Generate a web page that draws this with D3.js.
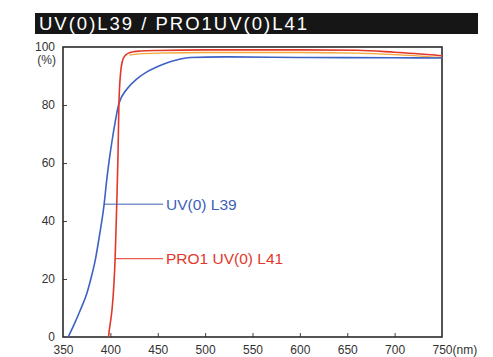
<!DOCTYPE html>
<html><head><meta charset="utf-8">
<script src="https://cdn.jsdelivr.net/npm/d3@7"></script>
<style>body{margin:0;background:#fff}svg{display:block}</style>
</head><body>
<script>
const titleText = "UV(0)L39 / PRO1UV(0)L41";
const xTicks = [350,400,450,500,550,600,650,700,750];
const yTicks = [0,20,40,60,80,100];
const seriesNames = ["UV(0) L39","PRO1 UV(0) L41"];
const blueNm  = [355.5,362,368.3,375.3,379.9,384.1,388.5,393.3,396.1,399,401.7,405,409,417.5,428,439,450,460,472,484,520,600,700,750];
const blueVal = [0,4.5,9.3,15.2,20.7,26.6,35,45.5,54,61.5,67.5,74,80.5,85.5,89,91.5,93.3,94.6,95.7,96.4,96.6,96.4,96.3,96.2];
const redNm   = [398,398.5,400,401.7,403.8,405,406.7,408,409,410.5,413,416,420,425,432,450,500,600,660,700,750];
const redVal  = [0,1.4,5,9.3,18.6,27,45.5,62,80,90,95.5,97.2,98,98.4,98.6,98.8,99,99,98.9,98.2,97];
const orangeNm  = [420,430,450,500,600,660,700,750];
const orangeVal = [97.2,97.6,97.9,98.1,98.1,97.9,97.4,96.4];
const leaderNm = [393.3, 405];
const leaderVal = [45.8, 27];

const W=493,H=357;
const svg=d3.select("body").append("svg").attr("width",W).attr("height",H);
const x=d3.scaleLinear().domain([350,750]).range([63,442]);
const y=d3.scaleLinear().domain([0,100]).range([337,47]);
const font="'Liberation Sans', Arial, Helvetica, sans-serif";

// title bar
svg.append("rect").attr("x",35).attr("y",13).attr("width",443).attr("height",21).attr("fill","#161616");
svg.append("text").attr("x",39).attr("y",30).attr("fill","#fff").attr("font-family",font)
  .attr("font-size",18.5).attr("textLength",268).text(titleText);

// axes
const xAxis=d3.axisBottom(x).tickValues(xTicks).tickSize(-4).tickPadding(8).tickFormat(d=>d===750?"750(nm)":d);
const gx=svg.append("g").attr("transform","translate(0,337)").call(xAxis);
gx.select(".domain").remove();
gx.selectAll("line").attr("stroke","#444");
gx.selectAll("text").attr("font-family",font).attr("font-size",12).attr("fill","#333");
gx.selectAll(".tick").filter(d=>d===750).select("text").attr("text-anchor","start").attr("dx",-10);
gx.selectAll(".tick").filter(d=>d===350||d===750).select("line").remove();

const yAxis=d3.axisLeft(y).tickValues(yTicks).tickSize(-4).tickPadding(8);
const gy=svg.append("g").attr("transform","translate(63,0)").call(yAxis);
gy.select(".domain").remove();
gy.selectAll("line").attr("stroke","#444");
gy.selectAll("text").attr("font-family",font).attr("font-size",12).attr("fill","#333");
gy.selectAll(".tick").filter(d=>d===0||d===100).select("line").remove();
svg.append("text").attr("x",56).attr("y",64).attr("text-anchor","end").attr("font-family",font)
  .attr("font-size",12).attr("fill","#333").text("(%)");

// frame
svg.append("rect").attr("x",x(350)).attr("y",y(100)).attr("width",x(750)-x(350)).attr("height",y(0)-y(100))
  .attr("fill","none").attr("stroke","#2a2a2a").attr("stroke-width",1.6);

const line=d3.line().x(d=>x(d[0])).y(d=>y(d[1])).curve(d3.curveMonotoneX);
svg.append("path").datum(d3.zip(orangeNm,orangeVal)).attr("d",line).attr("fill","none").attr("stroke","#f2a93a").attr("stroke-width",1.3);
svg.append("path").datum(d3.zip(blueNm,blueVal)).attr("d",line).attr("fill","none").attr("stroke","#3d62c4").attr("stroke-width",1.6);
svg.append("path").datum(d3.zip(redNm,redVal)).attr("d",line).attr("fill","none").attr("stroke","#e2382a").attr("stroke-width",1.6);

// leaders and labels
const colors=["#3d5fb8","#e2382a"];
seriesNames.forEach((n,i)=>{
  const yy=y(leaderVal[i]);
  svg.append("line").attr("x1",x(leaderNm[i])).attr("x2",163).attr("y1",yy).attr("y2",yy).attr("stroke",colors[i]).attr("stroke-width",1);
  svg.append("text").attr("x",166).attr("y",yy+5.5).attr("font-family",font).attr("font-size",15.5).attr("fill",colors[i]).text(n);
});
</script>
</body></html>
